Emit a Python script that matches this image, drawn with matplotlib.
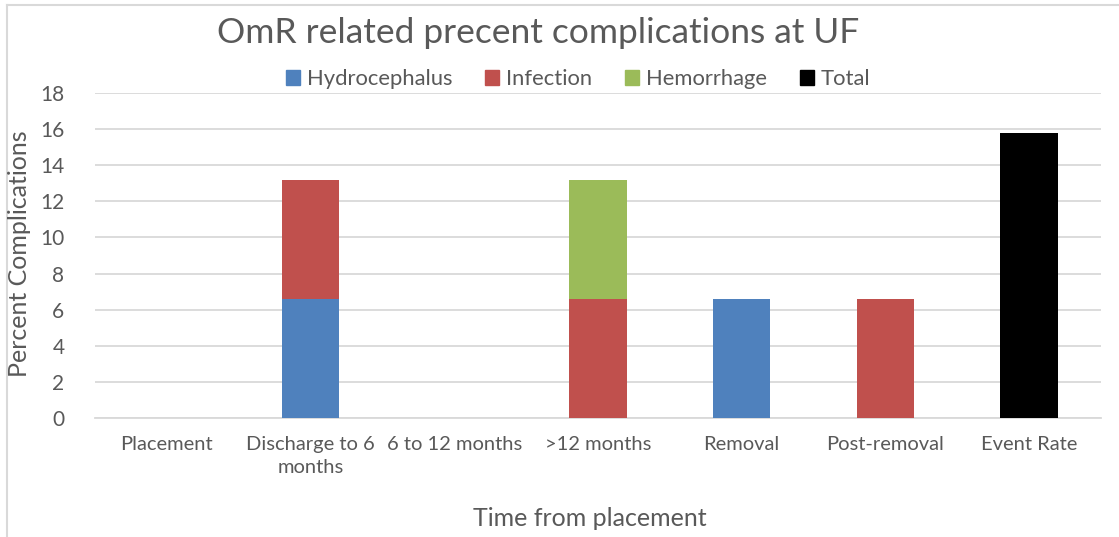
import matplotlib
matplotlib.use("Agg")
import matplotlib.pyplot as plt
from matplotlib.patches import Rectangle
from matplotlib.lines import Line2D
import numpy as np

categories = ["Placement", "Discharge to 6\nmonths", "6 to 12 months", ">12 months",
              "Removal", "Post-removal", "Event Rate"]
hydrocephalus = [0, 6.6, 0, 0, 6.6, 0, 0]
infection = [0, 6.6, 0, 6.6, 0, 6.6, 0]
hemorrhage = [0, 0, 0, 6.6, 0, 0, 0]
total = [0, 0, 0, 0, 0, 0, 15.8]
series_names = ["Hydrocephalus", "Infection", "Hemorrhage", "Total"]
colors = ["#4F81BD", "#C0504D", "#9BBB59", "#000000"]

plt.rcParams['font.family'] = ['Lato', 'DejaVu Sans']

fig = plt.figure(figsize=(11.19, 5.37), dpi=100)
ax = fig.add_axes([95/1119, 1 - 418/537, (1101-95)/1119, (418-93)/537])

x = np.arange(len(categories))
w = 0.4
bottom = np.zeros(len(categories))
for vals, name, c in zip([hydrocephalus, infection, hemorrhage, total], series_names, colors):
    vals = np.array(vals, dtype=float)
    ax.bar(x, vals, w, bottom=bottom, color=c, label=name, zorder=3)
    bottom += vals

ax.set_ylim(0, 18)
ax.set_xlim(-0.5, len(categories) - 0.5)
ax.set_yticks(np.arange(0, 19, 2))
ax.set_xticks(x)
ax.set_xticklabels(categories, fontsize=14.5, color="#595959", linespacing=1.4)
ax.tick_params(axis='y', labelsize=15, colors="#595959", length=0, pad=22)
ax.tick_params(axis='x', length=0, pad=13)
ax.grid(axis='y', color="#D9D9D9", linewidth=1.3, zorder=0)
for s in ["top", "right", "left"]:
    ax.spines[s].set_visible(False)
ax.spines["bottom"].set_color("#D9D9D9")
ax.spines["bottom"].set_linewidth(1.3)

fig.text(20/1119, 1 - 254/537, "Percent Complications", fontsize=18, color="#595959",
         ha="center", va="center", rotation=90)
fig.text(590/1119, 1 - 519/537, "Time from placement", fontsize=18, color="#595959",
         ha="center", va="center")
fig.text(538/1119, 1 - 33/537, "OmR related precent complications at UF", fontsize=25.5,
         color="#595959", ha="center", va="center")

handles = [Rectangle((0, 0), 1, 1, color=c) for c in colors]
leg = fig.legend(handles, series_names, loc="center", bbox_to_anchor=(578/1119, 1 - 79/537),
                 ncol=4, frameon=False, fontsize=15.8, handlelength=0.65, handleheight=0.65,
                 handletextpad=0.3, columnspacing=1.5)
for t in leg.get_texts():
    t.set_color("#595959")

# figure border (left and top only)
fig.add_artist(Line2D([7/1119, 7/1119], [0, 1 - 5/537], transform=fig.transFigure,
                      color="#D9D9D9", linewidth=1.5))
fig.add_artist(Line2D([7/1119, 1], [1 - 5/537, 1 - 5/537], transform=fig.transFigure,
                      color="#D9D9D9", linewidth=1.5))

fig.savefig("out.png", dpi=100)
